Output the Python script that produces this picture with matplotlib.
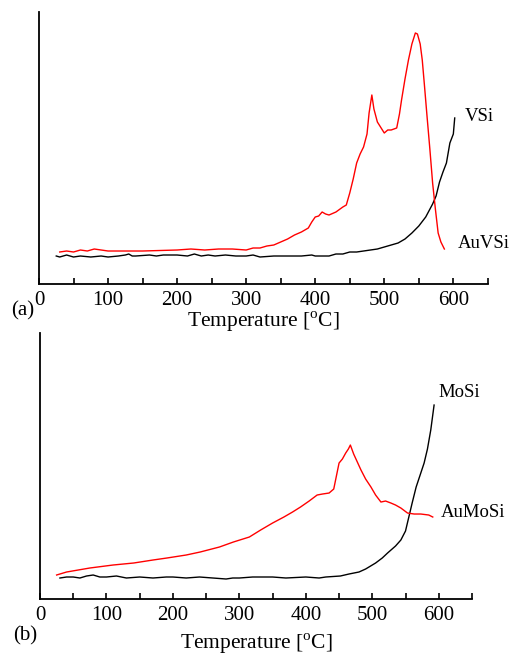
import numpy as np
import matplotlib
matplotlib.use('Agg')
import matplotlib.pyplot as plt
from matplotlib.ticker import MultipleLocator

plt.rcParams['font.family'] = 'Liberation Serif'
plt.rcParams['mathtext.fontset'] = 'custom'
plt.rcParams['mathtext.rm'] = 'Liberation Serif'

# (a) VSi / AuVSi
t_vsi = [25, 30, 40, 50, 60, 75, 90, 100, 115, 125, 130, 135, 140, 160, 170, 180, 200, 215, 225, 235,
         245, 255, 270, 285, 300, 310, 320, 340, 360, 380, 395, 400, 420, 430,
         440, 450, 460, 470, 480, 490, 500, 510, 520, 530, 540, 550, 560, 570, 575, 580, 585, 590, 595, 600, 602]
vsi = [28, 27, 29, 27, 28, 27, 28, 27, 28, 29, 30, 28, 28, 29, 28, 29, 29, 28, 30, 28,
       29, 28, 29, 28, 28, 29, 27, 28, 28, 28, 29, 28, 28, 30,
       30, 32, 32, 33, 34, 35, 37, 39, 41, 45, 51, 58, 67, 80, 88, 102, 112, 121, 141, 150, 166]

t_auvsi = [30, 40, 50, 60, 70, 80, 100, 150, 200, 220, 240, 260, 280, 300, 310, 320, 330, 340, 350,
           360, 370, 380, 385, 390, 395, 400, 405, 410, 415, 420, 430, 440, 445, 450, 455, 460,
           465, 470, 475, 478, 482, 485, 490, 500, 505, 510, 518, 522, 525, 530, 535, 540, 545,
           548, 552, 555, 558, 562, 566, 570, 574, 578, 582, 587]
auvsi = [32, 33, 32, 34, 33, 35, 33, 33, 34, 35, 34, 35, 35, 34, 36, 36, 38, 39, 42,
         45, 49, 52, 54, 56, 62, 67, 68, 72, 70, 69, 72, 77, 79, 91, 105, 121,
         130, 137, 150, 171, 189, 175, 162, 151, 154, 154, 156, 170, 184, 205, 224, 240, 251,
         250, 240, 224, 200, 167, 135, 101, 75, 51, 42, 35]

# (b) MoSi / AuMoSi
t_mosi = [30, 40, 50, 60, 70, 80, 90, 100, 115, 130, 150, 170, 190, 200, 220, 240, 260, 280, 290,
          300, 320, 350, 370, 400, 420, 430, 452, 465, 480, 490, 505,
          515, 523, 535, 543, 550, 555, 560, 566, 572, 578, 583, 588, 593]
mosi = [21, 22, 22, 21, 23, 24, 22, 22, 23, 21, 22, 21, 22, 22, 21, 22, 21, 20, 21,
        21, 22, 22, 21, 22, 21, 22, 23, 25, 27, 30, 36,
        41, 46, 53, 59, 68, 82, 96, 112, 124, 136, 150, 169, 194]

t_aumosi = [25, 40, 75, 110, 141, 170, 191, 220, 241, 270, 291, 315, 332, 350, 367, 380, 392, 405,
            417, 425, 435, 442, 450, 455, 460, 464, 467, 472, 483, 490, 498, 505, 513, 520,
            528, 535, 543, 553, 563, 573, 585, 591]
aumosi = [24, 27, 31, 34, 36, 39, 41, 44, 47, 52, 57, 62, 69, 76, 82, 87, 92, 98,
          104, 105, 106, 110, 136, 140, 146, 150, 154, 145, 129, 120, 112, 104, 97, 98,
          96, 94, 91, 86, 85, 85, 84, 82]

fig = plt.figure(figsize=(5.13, 6.55), dpi=100)
ax1 = fig.add_axes([0.076, 0.5664, 0.875, 0.4153])
ax2 = fig.add_axes([0.078, 0.0855, 0.842, 0.406])

ax1.plot(t_vsi, vsi, color='black', lw=1.0)
ax1.plot(t_auvsi, auvsi, color='red', lw=1.0)
ax1.set_ylim(0, 272)
ax1.text(617, 167, 'VSi', fontsize=13.5, va='center', ha='left', clip_on=False)
ax1.text(607, 41, 'AuVSi', fontsize=13.5, va='center', ha='left', clip_on=False)

ax2.plot(t_mosi, mosi, color='black', lw=1.0)
ax2.plot(t_aumosi, aumosi, color='red', lw=1.0)
ax2.set_ylim(0, 266)
ax2.text(600, 207, 'MoSi', fontsize=13.5, va='center', ha='left', clip_on=False)
ax2.text(603, 87, 'AuMoSi', fontsize=13.5, va='center', ha='left', clip_on=False)

for ax, lab, lx, ly, lp in [(ax1, '(a)', -0.036, -0.1, -0.5), (ax2, '(b)', -0.035, -0.139, 4.5)]:
    ax.set_xlim(0, 650)
    ax.set_xticks(np.arange(0, 700, 100))
    ax.xaxis.set_minor_locator(MultipleLocator(50))
    ax.set_yticks([])
    ax.spines['top'].set_visible(False)
    ax.spines['right'].set_visible(False)
    ax.spines['left'].set_linewidth(1.3)
    ax.spines['bottom'].set_linewidth(1.3)
    ax.tick_params(axis='x', which='both', direction='in', length=4, width=1.2, labelsize=15, pad=5)
    ax.set_xlabel('Temperature [$^{\\rm o}$C]', fontsize=15.5, labelpad=lp)
    ax.text(lx, ly, lab, transform=ax.transAxes, fontsize=15, ha='center', va='center')

fig.savefig('out.png', dpi=100)
